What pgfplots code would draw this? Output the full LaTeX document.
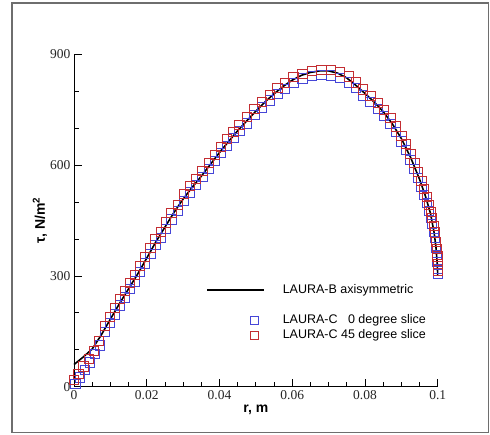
\documentclass[border=0pt]{standalone}
\usepackage{pgfplots}
\pgfplotsset{compat=1.18}
\usepackage{fontspec}
\setmainfont{Liberation Serif}
\setsansfont{Liberation Sans}
\definecolor{sqblue}{RGB}{70,70,215}
\definecolor{sqred}{RGB}{195,45,50}
\definecolor{framegray}{RGB}{110,110,110}
\begin{document}
\begin{tikzpicture}[x=1pt,y=1pt]
\useasboundingbox (0,0) rectangle (490,434);
\draw[framegray, line width=1.2pt] (12,1.5) rectangle (488.5,431);
\begin{axis}[
 at={(74pt,47.3pt)}, anchor=south west,
 scale only axis, width=363.7pt, height=332.4pt,
 xmin=0, xmax=0.1, ymin=0, ymax=900,
 axis x line=bottom, axis y line=left,
 axis line style={-, line width=1pt},
 tick align=inside,
 xtick={0,0.02,0.04,0.06,0.08,0.1},
 xticklabels={0,0.02,0.04,0.06,0.08,0.1},
 minor x tick num=3,
 ytick={0,300,600,900},
 yticklabels={0,300,600,900},
 minor y tick num=2,
 major tick length=8pt, minor tick length=5pt,
 tick style={black, line width=0.8pt},
 ticklabel style={font=\fontsize{13.5}{15}\selectfont, text=black!85},
 xlabel={\textbf{r, m}},
 ylabel={\textbf{τ, N/m\textsuperscript{2}}},
 xlabel style={at={(axis description cs:0.5,-0.069)}, anchor=center, font=\fontsize{14}{16}\selectfont\sffamily},
 ylabel style={at={(axis description cs:-0.0935,0.5)}, anchor=center, font=\fontsize{14}{16}\selectfont\sffamily},
 clip=false,
 legend style={at={(axis description cs:0.364,0.3135)}, anchor=north west, draw=none, fill=none, inner sep=0pt, row sep=0pt,
   font=\fontsize{12.5}{15}\selectfont\sffamily, nodes={inner sep=1.5pt, text height=9pt, text depth=3pt}},
 legend cell align=left,
]
\addlegendimage{black, line width=1.4pt, legend image code/.code={\path[draw=none,fill=none] (0pt,-1pt) rectangle (74pt,1pt); \draw (0pt,0pt) -- (57pt,0pt);}}
\addlegendentry{LAURA-B axisymmetric}
\addlegendimage{empty legend}
\addlegendentry{}
\addplot[only marks, mark=square, mark size=4.6pt, sqblue, mark options={line width=0.8pt},
  legend image code/.code={\path[draw=none,fill=none] (0pt,-1pt) rectangle (74pt,1pt); \draw[mark size=4pt] plot coordinates {(47pt,0pt)};}]
coordinates {
(0.0004,8) (0.0016,25) (0.0030,45) (0.0044,66) (0.0058,88) (0.0071,112)
(0.0084,148) (0.0098,173) (0.0112,196) (0.0126,220) (0.0140,242) (0.0154,264)
(0.0168,285) (0.0182,310) (0.0196,334) (0.0210,359) (0.0224,384) (0.0238,403)
(0.0252,428) (0.0268,453) (0.0285,476) (0.0302,504) (0.0319,526) (0.0336,546)
(0.0353,567) (0.0370,589) (0.0387,611) (0.0404,632) (0.0421,653) (0.0438,673)
(0.0455,692) (0.0475,713) (0.0496,735) (0.0517,756) (0.0538,775) (0.0559,792)
(0.0580,807) (0.0603,823) (0.0628,835) (0.0654,842) (0.0680,845) (0.0706,843)
(0.0732,836) (0.0755,824) (0.0775,808) (0.0795,789) (0.0815,771) (0.0835,752)
(0.0853,733) (0.0870,712) (0.0886,689) (0.0900,664) (0.0913,641) (0.0925,614)
(0.0936,589) (0.0946,566) (0.0955,542) (0.0963,520) (0.0970,497) (0.0976,477)
(0.0981,457) (0.0985,440) (0.0989,420) (0.0992,402) (0.0995,377) (0.0997,357)
(0.0999,337) (0.1000,318) (0.1000,305)
};
\addlegendentry{LAURA-C \phantom{4}0 degree slice}
\addplot[only marks, mark=square, mark size=4.6pt, sqred, mark options={line width=0.8pt},
  legend image code/.code={\path[draw=none,fill=none] (0pt,-1pt) rectangle (74pt,1pt); \draw[mark size=4pt] plot coordinates {(47pt,0pt)};}]
coordinates {
(0,18) (0.0012,35) (0.0026,55) (0.0040,76) (0.0054,98) (0.0068,124)
(0.0084,165) (0.0098,190) (0.0112,213) (0.0126,237) (0.0140,259) (0.0154,281)
(0.0168,302) (0.0182,327) (0.0196,351) (0.0210,376) (0.0224,401) (0.0238,420)
(0.0252,445) (0.0268,470) (0.0285,493) (0.0302,521) (0.0319,543) (0.0336,563)
(0.0353,584) (0.0370,606) (0.0387,628) (0.0404,649) (0.0421,670) (0.0438,690)
(0.0455,709) (0.0475,730) (0.0496,752) (0.0517,772) (0.0538,791) (0.0559,808)
(0.0580,822) (0.0603,838) (0.0628,848) (0.0654,855) (0.0680,858) (0.0706,857)
(0.0732,852) (0.0755,840) (0.0775,824) (0.0795,805) (0.0815,787) (0.0835,768)
(0.0853,749) (0.0870,728) (0.0886,705) (0.0900,680) (0.0913,657) (0.0925,630)
(0.0936,605) (0.0946,582) (0.0955,558) (0.0963,536) (0.0970,513) (0.0976,493)
(0.0981,473) (0.0985,456) (0.0989,436) (0.0992,418) (0.0995,393) (0.0997,373)
(0.0999,353) (0.1000,332) (0.1000,315)
};
\addlegendentry{LAURA-C 45 degree slice}
\addplot[black, line width=1.6pt, forget plot] coordinates {
(0,60) (0.0025,80) (0.005,102) (0.0075,140) (0.010,183) (0.0125,225) (0.015,265)
(0.0175,305) (0.020,348) (0.0225,392) (0.025,432) (0.0275,472) (0.030,508)
(0.0325,540) (0.035,570) (0.0375,602) (0.040,634) (0.0425,664) (0.045,693)
(0.0475,720) (0.050,746) (0.0525,771) (0.055,793) (0.0575,813) (0.060,830)
(0.0625,843) (0.065,851) (0.0675,855) (0.070,855) (0.0725,849) (0.075,836)
(0.0775,816) (0.080,794) (0.0825,771) (0.085,745) (0.0875,712) (0.090,672)
(0.0925,622) (0.095,562) (0.0965,520) (0.098,470) (0.099,418) (0.0995,380)
(0.0999,330) (0.1,300)
};
\end{axis}
\end{tikzpicture}
\end{document}
